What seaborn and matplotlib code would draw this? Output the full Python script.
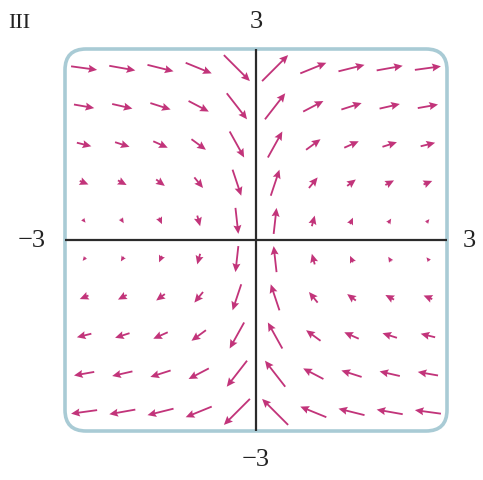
import numpy as np
import pandas as pd
import matplotlib
matplotlib.use("Agg")
import matplotlib.pyplot as plt
from matplotlib.patches import FancyBboxPatch
import seaborn as sns

# Sample positions of the vector field (columns left->right, rows top->bottom)
x_positions = [-2.7, -2.1, -1.5, -0.9, -0.3, 0.3, 0.9, 1.5, 2.1, 2.7]
y_positions = [2.7, 2.1, 1.5, 0.9, 0.3, -0.3, -0.9, -1.5, -2.1, -2.7]

# Horizontal component, constant along each row
u_by_row = [2.7, 2.1, 1.5, 0.9, 0.3, -0.3, -0.9, -1.5, -2.1, -2.7]
# Vertical component, constant along each column
v_by_col = [-0.37, -0.48, -0.67, -1.1, -2.7, 2.7, 1.1, 0.67, 0.48, 0.37]

axis_limit = 3
panel_label = "III"

sns.set_style("white")
plt.rcParams["font.family"] = ["Liberation Serif", "DejaVu Serif"]

gx, gy = np.meshgrid(x_positions, y_positions)
gu = np.repeat(np.array(u_by_row)[:, None], len(x_positions), axis=1)
gv = np.repeat(np.array(v_by_col)[None, :], len(y_positions), axis=0)

field = pd.DataFrame({
    "x": gx.ravel(), "y": gy.ravel(), "u": gu.ravel(), "v": gv.ravel()
})

fig = plt.figure(figsize=(4.83, 4.81), dpi=100)
ax = fig.add_axes([65 / 483, 49 / 481, 382 / 483, 382 / 481])
ax.set_xlim(-axis_limit, axis_limit)
ax.set_ylim(-axis_limit, axis_limit)
ax.set_axis_off()

# Rounded frame around the plotting region
frame = FancyBboxPatch((0, 0), 1, 1, transform=ax.transAxes,
                       boxstyle="round,pad=0,rounding_size=0.055",
                       facecolor="white", edgecolor="#a9cbd5", linewidth=2.6,
                       clip_on=False, zorder=0)
ax.add_patch(frame)

# Coordinate axes
ax.plot([-axis_limit, axis_limit], [0, 0], color="#2b2b2b", lw=1.6, zorder=1,
        solid_capstyle="butt")
ax.plot([0, 0], [-axis_limit, axis_limit], color="#2b2b2b", lw=1.6, zorder=1,
        solid_capstyle="butt")

ax.quiver(field["x"], field["y"], field["u"], field["v"],
          angles="xy", scale_units="xy", scale=6.6, pivot="middle",
          color="#c2347a", width=0.0048, headwidth=4.4, headlength=4.8,
          headaxislength=4.2, minlength=0.8, zorder=2)

# Axis end labels
fs = 19
ax.text(0.5, 1.045, "3", transform=ax.transAxes, ha="center", va="bottom",
        fontsize=fs, color="#222222")
ax.text(0.5, -0.045, "\u22123", transform=ax.transAxes, ha="center", va="top",
        fontsize=fs, color="#222222")
ax.text(-0.05, 0.5, "\u22123", transform=ax.transAxes, ha="right", va="center",
        fontsize=fs, color="#222222")
ax.text(1.04, 0.5, "3", transform=ax.transAxes, ha="left", va="center",
        fontsize=fs, color="#222222")
fig.text(8 / 483, 1 - 24 / 481, panel_label, ha="left", va="center",
         fontsize=16, color="#222222")

fig.savefig("out.png", dpi=100)
